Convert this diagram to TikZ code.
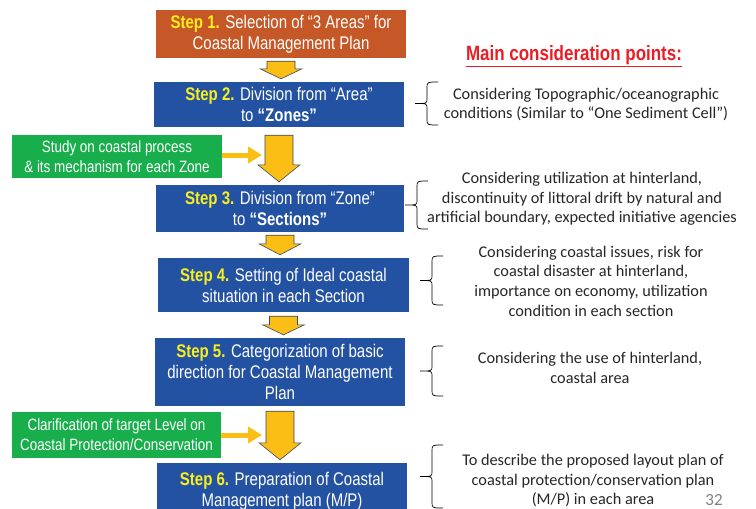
\documentclass[tikz,border=0pt]{standalone}
\usepackage{fontspec}
\setmainfont{Carlito}
\newfontfamily\narrowfont{Liberation Sans}[FakeStretch=0.82]
\usetikzlibrary{calc}
\usetikzlibrary{arrows.meta}

\definecolor{stepblue}{RGB}{36,82,163}
\definecolor{steporange}{RGB}{197,88,38}
\definecolor{sidegreen}{RGB}{24,174,76}
\definecolor{arrowyellow}{RGB}{251,190,20}
\definecolor{arrowedge}{RGB}{60,70,95}
\definecolor{stepyellow}{RGB}{250,238,30}
\definecolor{headred}{RGB}{236,28,36}
\definecolor{notegray}{RGB}{38,38,38}

\tikzset{
  stepbox/.style={fill=stepblue, text=white, align=center, inner sep=0pt,
    font=\narrowfont\fontsize{18.3}{21}\selectfont},
  sidebox/.style={fill=sidegreen, text=white, align=center, inner sep=0pt,
    font=\narrowfont\fontsize{16.4}{20}\selectfont},
  note/.style={text=notegray, align=center, inner sep=0pt,
    font=\fontsize{16.3}{19.7}\selectfont},
  blockarrow/.style={fill=arrowyellow, draw=arrowedge, line width=.6pt, xshift=3pt},
  sidearrow/.style={draw=arrowyellow, line width=5pt, -{Triangle[length=14pt,width=16pt]}},
  bracket/.style={draw=black, line width=.7pt}
}

\newcommand{\stp}[1]{\textcolor{stepyellow}{\bfseries Step #1.}}

% block arrow: from, to, head length, gap on top
\newcommand{\flowarrow}[4]{%
  \draw[blockarrow] let \p1=(#1.south), \p2=(#2.north) in
    (\x1-14pt,\y1-#4) -- (\x1+14pt,\y1-#4) -- (\x1+14pt,\y2+3pt+#3)
    -- (\x1+21pt,\y2+3pt+#3) -- (\x1,\y2+3pt) -- (\x1-21pt,\y2+3pt+#3)
    -- (\x1-14pt,\y2+3pt+#3) -- cycle;}

% left brace: end x, top y, bottom y
\newcommand{\notebrace}[3]{%
  \pgfmathsetmacro\bmid{(#2+#3)/2}
  \draw[bracket] (#1,#2) .. controls (#1-11,#2) .. (#1-11,#2+6) -- (#1-11,\bmid-5)
    .. controls (#1-11,\bmid) .. (#1-23,\bmid) .. controls (#1-11,\bmid) .. (#1-11,\bmid+5)
    -- (#1-11,#3-6) .. controls (#1-11,#3) .. (#1,#3);}

\begin{document}
\begin{tikzpicture}[x=1pt,y=-1pt]
\useasboundingbox (0,0) rectangle (756,509);

% steps
\node[stepbox, fill=steporange, minimum width=250pt, minimum height=48pt] (s1) at (281,34)
  {\stp{1} Selection of “3 Areas” for\\ Coastal Management Plan};
\node[stepbox, minimum width=250pt, minimum height=45pt] (s2) at (279,104.5)
  {\stp{2} Division from “Area”\\ to \textbf{“Zones”}};
\node[stepbox, minimum width=248pt, minimum height=47pt] (s3) at (280,208.5)
  {\stp{3} Division from “Zone”\\ to \textbf{“Sections”}};
\node[stepbox, minimum width=251pt, minimum height=54pt] (s4) at (283.5,285)
  {\stp{4} Setting of Ideal coastal\\ situation in each Section};
\node[stepbox, minimum width=250pt, minimum height=68pt] (s5) at (280,372)
  {\stp{5} Categorization of basic\\ direction for Coastal Management\\ Plan};
\node[stepbox, minimum width=250pt, minimum height=56pt] (s6) at (282,491)
  {\stp{6} Preparation of Coastal\\ Management plan (M/P)};

% side inputs
\node[sidebox, minimum width=210pt, minimum height=43pt] (g1) at (117,156.5)
  {Study on coastal process\\ \& its mechanism for each Zone};
\node[sidebox, minimum width=209pt, minimum height=46pt] (g2) at (116.5,435)
  {Clarification of target Level on\\ Coastal Protection/Conservation};
\coordinate (g1end) at (262,155);
\coordinate (g2end) at (262,435);

% arrows
\flowarrow{s1}{s2}{10pt}{3pt}
\flowarrow{s2}{s3}{17pt}{8pt}
\flowarrow{s3}{s4}{11pt}{3pt}
\flowarrow{s4}{s5}{10pt}{4pt}
\flowarrow{s5}{s6}{17pt}{5pt}
\draw[sidearrow] (g1.east |- g1end) -- (g1end);
\draw[sidearrow] (g2.east |- g2end) -- (g2end);

% consideration points
\node[text=headred, font=\narrowfont\bfseries\fontsize{20.7}{24}\selectfont] (title) at (574,56)
  {\underline{Main consideration points:}};

\node[note] (n1) at (586,104.5)
  {Considering Topographic/oceanographic\\ conditions (Similar to “One Sediment Cell”)};
\node[note] (n2) at (582,199)
  {Considering utilization at hinterland,\\ discontinuity of littoral drift by natural and\\ artificial boundary, expected initiative agencies};
\node[note] (n3) at (591,281)
  {Considering coastal issues, risk for\\ coastal disaster at hinterland,\\ importance on economy, utilization\\ condition in each section};
\node[note] (n4) at (590,368)
  {Considering the use of hinterland,\\ coastal area};
\node[note] (n5) at (593,480.5)
  {To describe the proposed layout plan of\\ coastal protection/conservation plan\\ (M/P) in each area};

\notebrace{438}{82}{125}
\notebrace{428}{181}{229}
\notebrace{443}{256}{305}
\notebrace{443}{346}{396}
\notebrace{443}{445}{508}

\node[text=gray, font=\fontsize{17}{20}\selectfont] (pagenum) at (714,500) {32};
\end{tikzpicture}
\end{document}
